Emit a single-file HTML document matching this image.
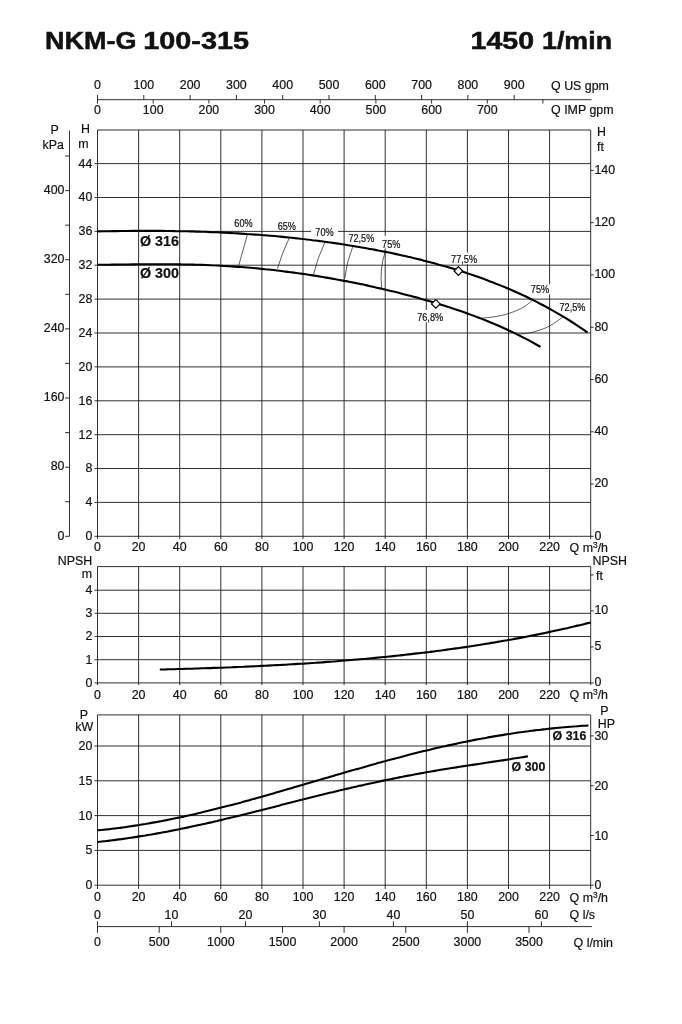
<!DOCTYPE html>
<html><head><meta charset="utf-8"><title>NKM-G 100-315</title>
<style>
html,body{margin:0;padding:0;background:#fff;}
body{width:682px;height:1024px;overflow:hidden;}
svg{display:block;will-change:transform;opacity:0.999;font-family:"Liberation Sans",sans-serif;fill:#111;}
text{stroke:#111;stroke-width:0.2px;}
text.t{stroke-width:0.5px;}
</style></head><body>
<svg width="682" height="1024" viewBox="0 0 682 1024">
<rect width="682" height="1024" fill="#fff"/>
<text x="45.0" y="49.2" textLength="91.5" class="t" font-size="24" font-weight="bold" lengthAdjust="spacingAndGlyphs">NKM-G</text>
<text x="143.2" y="49.2" textLength="105.8" class="t" font-size="24" font-weight="bold" lengthAdjust="spacingAndGlyphs">100-315</text>
<text x="470.6" y="49.2" textLength="63.5" class="t" font-size="24" font-weight="bold" lengthAdjust="spacingAndGlyphs">1450</text>
<text x="542.0" y="49.2" textLength="70" class="t" font-size="24" font-weight="bold" lengthAdjust="spacingAndGlyphs">1/min</text>
<path d="M97.5,99.7L591.5,99.7" stroke="#1a1a1a" stroke-width="0.9" fill="none"/>
<path d="M97.5,95.0L97.5,103.5" stroke="#1a1a1a" stroke-width="0.9" fill="none"/>
<path d="M143.8,95.0L143.8,99.7" stroke="#1a1a1a" stroke-width="0.9" fill="none"/>
<path d="M190.1,95.0L190.1,99.7" stroke="#1a1a1a" stroke-width="0.9" fill="none"/>
<path d="M236.4,95.0L236.4,99.7" stroke="#1a1a1a" stroke-width="0.9" fill="none"/>
<path d="M282.7,95.0L282.7,99.7" stroke="#1a1a1a" stroke-width="0.9" fill="none"/>
<path d="M329.0,95.0L329.0,99.7" stroke="#1a1a1a" stroke-width="0.9" fill="none"/>
<path d="M375.3,95.0L375.3,99.7" stroke="#1a1a1a" stroke-width="0.9" fill="none"/>
<path d="M421.6,95.0L421.6,99.7" stroke="#1a1a1a" stroke-width="0.9" fill="none"/>
<path d="M467.9,95.0L467.9,99.7" stroke="#1a1a1a" stroke-width="0.9" fill="none"/>
<path d="M514.2,95.0L514.2,99.7" stroke="#1a1a1a" stroke-width="0.9" fill="none"/>
<text x="97.5" y="89.4" font-size="12.4" text-anchor="middle">0</text>
<text x="143.8" y="89.4" font-size="12.4" text-anchor="middle">100</text>
<text x="190.1" y="89.4" font-size="12.4" text-anchor="middle">200</text>
<text x="236.4" y="89.4" font-size="12.4" text-anchor="middle">300</text>
<text x="282.7" y="89.4" font-size="12.4" text-anchor="middle">400</text>
<text x="329.0" y="89.4" font-size="12.4" text-anchor="middle">500</text>
<text x="375.3" y="89.4" font-size="12.4" text-anchor="middle">600</text>
<text x="421.6" y="89.4" font-size="12.4" text-anchor="middle">700</text>
<text x="467.9" y="89.4" font-size="12.4" text-anchor="middle">800</text>
<text x="514.2" y="89.4" font-size="12.4" text-anchor="middle">900</text>
<path d="M153.2,99.7L153.2,103.5" stroke="#1a1a1a" stroke-width="0.9" fill="none"/>
<path d="M208.9,99.7L208.9,103.5" stroke="#1a1a1a" stroke-width="0.9" fill="none"/>
<path d="M264.5,99.7L264.5,103.5" stroke="#1a1a1a" stroke-width="0.9" fill="none"/>
<path d="M320.2,99.7L320.2,103.5" stroke="#1a1a1a" stroke-width="0.9" fill="none"/>
<path d="M375.9,99.7L375.9,103.5" stroke="#1a1a1a" stroke-width="0.9" fill="none"/>
<path d="M431.6,99.7L431.6,103.5" stroke="#1a1a1a" stroke-width="0.9" fill="none"/>
<path d="M487.3,99.7L487.3,103.5" stroke="#1a1a1a" stroke-width="0.9" fill="none"/>
<path d="M542.9,99.7L542.9,103.5" stroke="#1a1a1a" stroke-width="0.9" fill="none"/>
<text x="97.5" y="114.2" font-size="12.4" text-anchor="middle">0</text>
<text x="153.2" y="114.2" font-size="12.4" text-anchor="middle">100</text>
<text x="208.9" y="114.2" font-size="12.4" text-anchor="middle">200</text>
<text x="264.5" y="114.2" font-size="12.4" text-anchor="middle">300</text>
<text x="320.2" y="114.2" font-size="12.4" text-anchor="middle">400</text>
<text x="375.9" y="114.2" font-size="12.4" text-anchor="middle">500</text>
<text x="431.6" y="114.2" font-size="12.4" text-anchor="middle">600</text>
<text x="487.3" y="114.2" font-size="12.4" text-anchor="middle">700</text>
<text x="551.1" y="89.5" font-size="12.4" text-anchor="start">Q US gpm</text>
<text x="551.1" y="114.2" font-size="12.4" text-anchor="start">Q IMP gpm</text>
<path d="M97.5,130.0L97.5,539.1" stroke="#1a1a1a" stroke-width="0.9" fill="none"/>
<path d="M138.6,130.0L138.6,539.1" stroke="#1a1a1a" stroke-width="0.9" fill="none"/>
<path d="M179.7,130.0L179.7,539.1" stroke="#1a1a1a" stroke-width="0.9" fill="none"/>
<path d="M220.8,130.0L220.8,539.1" stroke="#1a1a1a" stroke-width="0.9" fill="none"/>
<path d="M261.9,130.0L261.9,539.1" stroke="#1a1a1a" stroke-width="0.9" fill="none"/>
<path d="M303.0,130.0L303.0,539.1" stroke="#1a1a1a" stroke-width="0.9" fill="none"/>
<path d="M344.1,130.0L344.1,539.1" stroke="#1a1a1a" stroke-width="0.9" fill="none"/>
<path d="M385.2,130.0L385.2,539.1" stroke="#1a1a1a" stroke-width="0.9" fill="none"/>
<path d="M426.3,130.0L426.3,539.1" stroke="#1a1a1a" stroke-width="0.9" fill="none"/>
<path d="M467.4,130.0L467.4,539.1" stroke="#1a1a1a" stroke-width="0.9" fill="none"/>
<path d="M508.5,130.0L508.5,539.1" stroke="#1a1a1a" stroke-width="0.9" fill="none"/>
<path d="M549.6,130.0L549.6,539.1" stroke="#1a1a1a" stroke-width="0.9" fill="none"/>
<path d="M590.7,130.0L590.7,539.1" stroke="#1a1a1a" stroke-width="0.9" fill="none"/>
<path d="M94.5,536.3L590.7,536.3" stroke="#1a1a1a" stroke-width="0.9" fill="none"/>
<text x="92.3" y="540.2" font-size="12.4" text-anchor="end">0</text>
<path d="M94.5,502.4L590.7,502.4" stroke="#1a1a1a" stroke-width="0.9" fill="none"/>
<text x="92.3" y="506.3" font-size="12.4" text-anchor="end">4</text>
<path d="M94.5,468.5L590.7,468.5" stroke="#1a1a1a" stroke-width="0.9" fill="none"/>
<text x="92.3" y="472.4" font-size="12.4" text-anchor="end">8</text>
<path d="M94.5,434.7L590.7,434.7" stroke="#1a1a1a" stroke-width="0.9" fill="none"/>
<text x="92.3" y="438.6" font-size="12.4" text-anchor="end">12</text>
<path d="M94.5,400.8L590.7,400.8" stroke="#1a1a1a" stroke-width="0.9" fill="none"/>
<text x="92.3" y="404.7" font-size="12.4" text-anchor="end">16</text>
<path d="M94.5,366.9L590.7,366.9" stroke="#1a1a1a" stroke-width="0.9" fill="none"/>
<text x="92.3" y="370.8" font-size="12.4" text-anchor="end">20</text>
<path d="M94.5,333.0L590.7,333.0" stroke="#1a1a1a" stroke-width="0.9" fill="none"/>
<text x="92.3" y="336.9" font-size="12.4" text-anchor="end">24</text>
<path d="M94.5,299.1L590.7,299.1" stroke="#1a1a1a" stroke-width="0.9" fill="none"/>
<text x="92.3" y="303.0" font-size="12.4" text-anchor="end">28</text>
<path d="M94.5,265.2L590.7,265.2" stroke="#1a1a1a" stroke-width="0.9" fill="none"/>
<text x="92.3" y="269.1" font-size="12.4" text-anchor="end">32</text>
<path d="M94.5,231.4L311.0,231.4" stroke="#1a1a1a" stroke-width="0.9" fill="none"/>
<path d="M337.7,231.4L590.7,231.4" stroke="#1a1a1a" stroke-width="0.9" fill="none"/>
<text x="92.3" y="235.3" font-size="12.4" text-anchor="end">36</text>
<path d="M94.5,197.5L590.7,197.5" stroke="#1a1a1a" stroke-width="0.9" fill="none"/>
<text x="92.3" y="201.4" font-size="12.4" text-anchor="end">40</text>
<path d="M94.5,163.6L590.7,163.6" stroke="#1a1a1a" stroke-width="0.9" fill="none"/>
<text x="92.3" y="167.5" font-size="12.4" text-anchor="end">44</text>
<path d="M97.5,130.0L590.7,130.0" stroke="#1a1a1a" stroke-width="0.9" fill="none"/>
<text x="85.5" y="133.4" font-size="12.4" text-anchor="middle">H</text>
<text x="83.4" y="147.8" font-size="12.4" text-anchor="middle">m</text>
<path d="M69.5,130.5L69.5,536.3" stroke="#1a1a1a" stroke-width="0.9" fill="none"/>
<path d="M65.1,536.3L69.5,536.3" stroke="#1a1a1a" stroke-width="0.9" fill="none"/>
<text x="64.5" y="539.5" font-size="12.4" text-anchor="end">0</text>
<path d="M65.1,501.7L69.5,501.7" stroke="#1a1a1a" stroke-width="0.9" fill="none"/>
<path d="M65.1,467.2L69.5,467.2" stroke="#1a1a1a" stroke-width="0.9" fill="none"/>
<text x="64.5" y="470.4" font-size="12.4" text-anchor="end">80</text>
<path d="M65.1,432.6L69.5,432.6" stroke="#1a1a1a" stroke-width="0.9" fill="none"/>
<path d="M65.1,398.0L69.5,398.0" stroke="#1a1a1a" stroke-width="0.9" fill="none"/>
<text x="64.5" y="401.2" font-size="12.4" text-anchor="end">160</text>
<path d="M65.1,363.4L69.5,363.4" stroke="#1a1a1a" stroke-width="0.9" fill="none"/>
<path d="M65.1,328.9L69.5,328.9" stroke="#1a1a1a" stroke-width="0.9" fill="none"/>
<text x="64.5" y="332.1" font-size="12.4" text-anchor="end">240</text>
<path d="M65.1,294.3L69.5,294.3" stroke="#1a1a1a" stroke-width="0.9" fill="none"/>
<path d="M65.1,259.7L69.5,259.7" stroke="#1a1a1a" stroke-width="0.9" fill="none"/>
<text x="64.5" y="262.9" font-size="12.4" text-anchor="end">320</text>
<path d="M65.1,225.2L69.5,225.2" stroke="#1a1a1a" stroke-width="0.9" fill="none"/>
<path d="M65.1,190.6L69.5,190.6" stroke="#1a1a1a" stroke-width="0.9" fill="none"/>
<text x="64.5" y="193.8" font-size="12.4" text-anchor="end">400</text>
<path d="M65.1,156.0L69.5,156.0" stroke="#1a1a1a" stroke-width="0.9" fill="none"/>
<text x="54.7" y="134.4" font-size="12.4" text-anchor="middle">P</text>
<text x="63.8" y="149.3" font-size="12.4" text-anchor="end">kPa</text>
<path d="M590.7,536.3L593.7,536.3" stroke="#1a1a1a" stroke-width="0.9" fill="none"/>
<text x="594.4" y="539.7" font-size="12.4" text-anchor="start">0</text>
<path d="M590.7,484.0L593.7,484.0" stroke="#1a1a1a" stroke-width="0.9" fill="none"/>
<text x="594.4" y="487.4" font-size="12.4" text-anchor="start">20</text>
<path d="M590.7,431.8L593.7,431.8" stroke="#1a1a1a" stroke-width="0.9" fill="none"/>
<text x="594.4" y="435.2" font-size="12.4" text-anchor="start">40</text>
<path d="M590.7,379.5L593.7,379.5" stroke="#1a1a1a" stroke-width="0.9" fill="none"/>
<text x="594.4" y="382.9" font-size="12.4" text-anchor="start">60</text>
<path d="M590.7,327.2L593.7,327.2" stroke="#1a1a1a" stroke-width="0.9" fill="none"/>
<text x="594.4" y="330.6" font-size="12.4" text-anchor="start">80</text>
<path d="M590.7,274.9L593.7,274.9" stroke="#1a1a1a" stroke-width="0.9" fill="none"/>
<text x="594.4" y="278.3" font-size="12.4" text-anchor="start">100</text>
<path d="M590.7,222.7L593.7,222.7" stroke="#1a1a1a" stroke-width="0.9" fill="none"/>
<text x="594.4" y="226.1" font-size="12.4" text-anchor="start">120</text>
<path d="M590.7,170.4L593.7,170.4" stroke="#1a1a1a" stroke-width="0.9" fill="none"/>
<text x="594.4" y="173.8" font-size="12.4" text-anchor="start">140</text>
<text x="597.0" y="135.5" font-size="12.4" text-anchor="start">H</text>
<text x="597.0" y="150.5" font-size="12.4" text-anchor="start">ft</text>
<text x="97.5" y="551.2" font-size="12.4" text-anchor="middle">0</text>
<text x="138.6" y="551.2" font-size="12.4" text-anchor="middle">20</text>
<text x="179.7" y="551.2" font-size="12.4" text-anchor="middle">40</text>
<text x="220.8" y="551.2" font-size="12.4" text-anchor="middle">60</text>
<text x="261.9" y="551.2" font-size="12.4" text-anchor="middle">80</text>
<text x="303.0" y="551.2" font-size="12.4" text-anchor="middle">100</text>
<text x="344.1" y="551.2" font-size="12.4" text-anchor="middle">120</text>
<text x="385.2" y="551.2" font-size="12.4" text-anchor="middle">140</text>
<text x="426.3" y="551.2" font-size="12.4" text-anchor="middle">160</text>
<text x="467.4" y="551.2" font-size="12.4" text-anchor="middle">180</text>
<text x="508.5" y="551.2" font-size="12.4" text-anchor="middle">200</text>
<text x="549.6" y="551.2" font-size="12.4" text-anchor="middle">220</text>
<text x="569.6" y="552.1" font-size="12.4">Q m<tspan font-size="8.3" dy="-4">3</tspan><tspan dy="4">/h</tspan></text>
<path d="M247.4,234.6 L238.7,265.6" stroke="#1a1a1a" stroke-width="0.7" fill="none"/>
<path d="M289.1,238.4 Q282,253 277.4,268.6" stroke="#1a1a1a" stroke-width="0.7" fill="none"/>
<path d="M324.7,242.7 Q317.5,258 313.5,274.3" stroke="#1a1a1a" stroke-width="0.7" fill="none"/>
<path d="M352.6,247.2 Q346.5,262 344.7,278.8" stroke="#1a1a1a" stroke-width="0.7" fill="none"/>
<path d="M385.4,251.2 Q379.4,268.5 381.7,287.8" stroke="#1a1a1a" stroke-width="0.7" fill="none"/>
<path d="M532.9,299.9 C531.3,301.1 527.4,304.9 523.4,307.2 C519.4,309.5 513.7,311.9 508.9,313.5 C504.1,315.1 499.4,315.9 494.8,316.7 C490.2,317.5 483.6,317.9 481.4,318.2" stroke="#1a1a1a" stroke-width="0.7" fill="none"/>
<path d="M563.4,316.7 C561.0,318.3 553.8,323.8 549.3,326.2 C544.8,328.6 540.4,329.8 536.7,331.0 C533.0,332.2 530.7,332.7 527.2,333.3 C523.7,333.9 517.6,334.2 515.7,334.4" stroke="#1a1a1a" stroke-width="0.7" fill="none"/>
<path d="M97.4,231.4 C98.4,231.4 101.4,231.4 103.4,231.3 C105.4,231.3 107.4,231.2 109.4,231.2 C111.3,231.2 113.3,231.1 115.3,231.1 C117.3,231.1 119.3,231.1 121.3,231.0 C123.3,231.0 125.3,231.0 127.3,231.0 C129.3,230.9 131.3,230.9 133.3,230.9 C135.3,230.9 137.2,230.9 139.2,230.9 C141.2,230.9 143.2,230.9 145.2,230.9 C147.2,230.9 149.2,230.9 151.2,230.9 C153.2,230.9 155.2,230.9 157.2,230.9 C159.2,230.9 161.2,230.9 163.1,230.9 C165.1,230.9 167.1,231.0 169.1,231.0 C171.1,231.0 173.1,231.0 175.1,231.1 C177.1,231.1 179.1,231.1 181.1,231.2 C183.1,231.2 185.1,231.2 187.1,231.3 C189.0,231.3 191.0,231.4 193.0,231.4 C195.0,231.5 197.0,231.6 199.0,231.6 C201.0,231.7 203.0,231.8 205.0,231.8 C207.0,231.9 209.0,232.0 211.0,232.1 C213.0,232.1 214.9,232.2 216.9,232.3 C218.9,232.4 220.9,232.5 222.9,232.6 C224.9,232.7 226.9,232.8 228.9,232.9 C230.9,233.0 232.9,233.1 234.9,233.2 C236.9,233.3 238.9,233.5 240.8,233.6 C242.8,233.7 244.8,233.8 246.8,234.0 C248.8,234.1 250.8,234.2 252.8,234.4 C254.8,234.5 256.8,234.7 258.8,234.8 C260.8,235.0 262.8,235.1 264.8,235.3 C266.7,235.5 268.7,235.6 270.7,235.8 C272.7,236.0 274.7,236.2 276.7,236.3 C278.7,236.5 280.7,236.7 282.7,236.9 C284.7,237.1 286.7,237.3 288.7,237.5 C290.7,237.7 292.6,237.9 294.6,238.1 C296.6,238.3 298.6,238.5 300.6,238.8 C302.6,239.0 304.6,239.2 306.6,239.5 C308.6,239.7 310.6,239.9 312.6,240.2 C314.6,240.4 316.6,240.7 318.5,240.9 C320.5,241.2 322.5,241.4 324.5,241.7 C326.5,242.0 328.5,242.3 330.5,242.5 C332.5,242.8 334.5,243.1 336.5,243.4 C338.5,243.7 340.5,244.0 342.5,244.3 C344.4,244.6 346.4,244.9 348.4,245.2 C350.4,245.5 352.4,245.9 354.4,246.2 C356.4,246.5 358.4,246.9 360.4,247.2 C362.4,247.5 364.4,247.9 366.4,248.2 C368.3,248.6 370.3,249.0 372.3,249.3 C374.3,249.7 376.3,250.1 378.3,250.5 C380.3,250.8 382.3,251.2 384.3,251.6 C386.3,252.0 388.3,252.4 390.3,252.8 C392.3,253.3 394.2,253.7 396.2,254.1 C398.2,254.5 400.2,255.0 402.2,255.4 C404.2,255.9 406.2,256.3 408.2,256.8 C410.2,257.2 412.2,257.7 414.2,258.2 C416.2,258.7 418.2,259.2 420.1,259.6 C422.1,260.1 424.1,260.7 426.1,261.2 C428.1,261.7 430.1,262.2 432.1,262.7 C434.1,263.3 436.1,263.8 438.1,264.4 C440.1,264.9 442.1,265.5 444.1,266.1 C446.0,266.6 448.0,267.2 450.0,267.8 C452.0,268.4 454.0,269.0 456.0,269.6 C458.0,270.2 460.0,270.9 462.0,271.5 C464.0,272.1 466.0,272.8 468.0,273.5 C470.0,274.1 471.9,274.8 473.9,275.5 C475.9,276.2 477.9,276.9 479.9,277.6 C481.9,278.3 483.9,279.0 485.9,279.8 C487.9,280.5 489.9,281.3 491.9,282.0 C493.9,282.8 495.9,283.6 497.8,284.4 C499.8,285.2 501.8,286.0 503.8,286.8 C505.8,287.6 507.8,288.5 509.8,289.3 C511.8,290.2 513.8,291.1 515.8,292.0 C517.8,292.8 519.8,293.8 521.8,294.7 C523.7,295.6 525.7,296.5 527.7,297.5 C529.7,298.5 531.7,299.4 533.7,300.4 C535.7,301.4 537.7,302.4 539.7,303.5 C541.7,304.5 543.7,305.6 545.7,306.6 C547.7,307.7 549.6,308.8 551.6,309.9 C553.6,311.0 555.6,312.2 557.6,313.3 C559.6,314.5 561.6,315.7 563.6,316.9 C565.6,318.1 567.6,319.3 569.6,320.5 C571.6,321.8 573.6,323.1 575.5,324.4 C577.5,325.7 579.5,327.0 581.5,328.3 C583.5,329.7 586.5,331.8 587.5,332.4" stroke="#000" stroke-width="2.1" fill="none" stroke-linecap="butt"/>
<path d="M97.4,264.8 C98.4,264.8 101.4,264.7 103.4,264.7 C105.4,264.7 107.4,264.7 109.4,264.7 C111.4,264.7 113.4,264.6 115.4,264.6 C117.4,264.6 119.4,264.6 121.4,264.5 C123.3,264.5 125.3,264.5 127.3,264.5 C129.3,264.4 131.3,264.4 133.3,264.4 C135.3,264.4 137.3,264.3 139.3,264.3 C141.3,264.3 143.3,264.3 145.3,264.3 C147.3,264.3 149.3,264.2 151.3,264.2 C153.3,264.2 155.3,264.2 157.3,264.2 C159.3,264.2 161.3,264.2 163.3,264.2 C165.3,264.2 167.3,264.2 169.3,264.2 C171.2,264.3 173.2,264.3 175.2,264.3 C177.2,264.3 179.2,264.3 181.2,264.4 C183.2,264.4 185.2,264.4 187.2,264.5 C189.2,264.5 191.2,264.6 193.2,264.6 C195.2,264.7 197.2,264.7 199.2,264.8 C201.2,264.9 203.2,264.9 205.2,265.0 C207.2,265.1 209.2,265.2 211.2,265.3 C213.2,265.3 215.2,265.4 217.2,265.5 C219.2,265.6 221.1,265.7 223.1,265.9 C225.1,266.0 227.1,266.1 229.1,266.2 C231.1,266.3 233.1,266.5 235.1,266.6 C237.1,266.8 239.1,266.9 241.1,267.0 C243.1,267.2 245.1,267.4 247.1,267.5 C249.1,267.7 251.1,267.9 253.1,268.0 C255.1,268.2 257.1,268.4 259.1,268.6 C261.1,268.8 263.1,269.0 265.1,269.2 C267.1,269.4 269.1,269.6 271.0,269.8 C273.0,270.1 275.0,270.3 277.0,270.5 C279.0,270.8 281.0,271.0 283.0,271.2 C285.0,271.5 287.0,271.7 289.0,272.0 C291.0,272.3 293.0,272.5 295.0,272.8 C297.0,273.1 299.0,273.3 301.0,273.6 C303.0,273.9 305.0,274.2 307.0,274.5 C309.0,274.8 311.0,275.1 313.0,275.4 C315.0,275.7 317.0,276.1 319.0,276.4 C320.9,276.7 322.9,277.0 324.9,277.4 C326.9,277.7 328.9,278.1 330.9,278.4 C332.9,278.8 334.9,279.1 336.9,279.5 C338.9,279.8 340.9,280.2 342.9,280.6 C344.9,281.0 346.9,281.3 348.9,281.7 C350.9,282.1 352.9,282.5 354.9,282.9 C356.9,283.3 358.9,283.7 360.9,284.1 C362.9,284.6 364.9,285.0 366.9,285.4 C368.8,285.8 370.8,286.3 372.8,286.7 C374.8,287.2 376.8,287.6 378.8,288.1 C380.8,288.5 382.8,289.0 384.8,289.4 C386.8,289.9 388.8,290.4 390.8,290.9 C392.8,291.4 394.8,291.8 396.8,292.3 C398.8,292.8 400.8,293.3 402.8,293.9 C404.8,294.4 406.8,294.9 408.8,295.4 C410.8,295.9 412.8,296.5 414.8,297.0 C416.8,297.6 418.7,298.1 420.7,298.7 C422.7,299.2 424.7,299.8 426.7,300.4 C428.7,301.0 430.7,301.5 432.7,302.1 C434.7,302.7 436.7,303.3 438.7,303.9 C440.7,304.6 442.7,305.2 444.7,305.8 C446.7,306.4 448.7,307.1 450.7,307.7 C452.7,308.4 454.7,309.1 456.7,309.7 C458.7,310.4 460.7,311.1 462.7,311.8 C464.7,312.5 466.7,313.2 468.6,313.9 C470.6,314.7 472.6,315.4 474.6,316.1 C476.6,316.9 478.6,317.6 480.6,318.4 C482.6,319.2 484.6,320.0 486.6,320.8 C488.6,321.6 490.6,322.4 492.6,323.3 C494.6,324.1 496.6,324.9 498.6,325.8 C500.6,326.7 502.6,327.6 504.6,328.5 C506.6,329.4 508.6,330.3 510.6,331.2 C512.6,332.2 514.6,333.1 516.5,334.1 C518.5,335.1 520.5,336.1 522.5,337.1 C524.5,338.1 526.5,339.1 528.5,340.2 C530.5,341.3 532.5,342.4 534.5,343.5 C536.5,344.6 539.5,346.3 540.5,346.9" stroke="#000" stroke-width="2.1" fill="none" stroke-linecap="butt"/>
<path d="M454.1,271.0L458.4,266.7L462.7,271.0L458.4,275.3Z" fill="#fff" stroke="#000" stroke-width="1.2"/>
<path d="M431.5,303.9L435.8,299.6L440.1,303.9L435.8,308.2Z" fill="#fff" stroke="#000" stroke-width="1.2"/>
<text x="140.0" y="246.2" font-size="14.3" text-anchor="start" font-weight="bold">Ø 316</text>
<text x="140.0" y="277.9" font-size="14.3" text-anchor="start" font-weight="bold">Ø 300</text>
<rect x="311" y="229.5" width="26.7" height="3.5" fill="#fff"/>
<rect x="383.5" y="235.8" width="3.5" height="12.6" fill="#fff"/>
<rect x="424.5" y="310" width="3.5" height="12.3" fill="#fff"/>
<rect x="465.7" y="252.6" width="3.5" height="11.5" fill="#fff"/>
<rect x="547.8" y="284.4" width="3.5" height="10" fill="#fff"/>
<text transform="translate(234.3,226.7) scale(0.915,1)" font-size="10">60%</text>
<text transform="translate(277.7,229.7) scale(0.915,1)" font-size="10">65%</text>
<text transform="translate(315.3,235.9) scale(0.915,1)" font-size="10">70%</text>
<text transform="translate(348.4,241.6) scale(0.915,1)" font-size="10">72,5%</text>
<text transform="translate(382.1,247.9) scale(0.915,1)" font-size="10">75%</text>
<text transform="translate(451.1,262.5) scale(0.915,1)" font-size="10">77,5%</text>
<text transform="translate(417.2,320.8) scale(0.915,1)" font-size="10">76,8%</text>
<text transform="translate(530.8,293.1) scale(0.915,1)" font-size="10">75%</text>
<text transform="translate(559.5,310.5) scale(0.915,1)" font-size="10">72,5%</text>
<path d="M97.5,566.6L97.5,685.1" stroke="#1a1a1a" stroke-width="0.9" fill="none"/>
<path d="M138.6,566.6L138.6,685.1" stroke="#1a1a1a" stroke-width="0.9" fill="none"/>
<path d="M179.7,566.6L179.7,685.1" stroke="#1a1a1a" stroke-width="0.9" fill="none"/>
<path d="M220.8,566.6L220.8,685.1" stroke="#1a1a1a" stroke-width="0.9" fill="none"/>
<path d="M261.9,566.6L261.9,685.1" stroke="#1a1a1a" stroke-width="0.9" fill="none"/>
<path d="M303.0,566.6L303.0,685.1" stroke="#1a1a1a" stroke-width="0.9" fill="none"/>
<path d="M344.1,566.6L344.1,685.1" stroke="#1a1a1a" stroke-width="0.9" fill="none"/>
<path d="M385.2,566.6L385.2,685.1" stroke="#1a1a1a" stroke-width="0.9" fill="none"/>
<path d="M426.3,566.6L426.3,685.1" stroke="#1a1a1a" stroke-width="0.9" fill="none"/>
<path d="M467.4,566.6L467.4,685.1" stroke="#1a1a1a" stroke-width="0.9" fill="none"/>
<path d="M508.5,566.6L508.5,685.1" stroke="#1a1a1a" stroke-width="0.9" fill="none"/>
<path d="M549.6,566.6L549.6,685.1" stroke="#1a1a1a" stroke-width="0.9" fill="none"/>
<path d="M590.7,566.6L590.7,685.1" stroke="#1a1a1a" stroke-width="0.9" fill="none"/>
<path d="M97.5,566.6L590.7,566.6" stroke="#1a1a1a" stroke-width="0.9" fill="none"/>
<path d="M94.5,682.9L590.7,682.9" stroke="#1a1a1a" stroke-width="0.9" fill="none"/>
<text x="92.3" y="686.8" font-size="12.4" text-anchor="end">0</text>
<path d="M94.5,659.7L590.7,659.7" stroke="#1a1a1a" stroke-width="0.9" fill="none"/>
<text x="92.3" y="663.6" font-size="12.4" text-anchor="end">1</text>
<path d="M94.5,636.5L590.7,636.5" stroke="#1a1a1a" stroke-width="0.9" fill="none"/>
<text x="92.3" y="640.4" font-size="12.4" text-anchor="end">2</text>
<path d="M94.5,613.3L590.7,613.3" stroke="#1a1a1a" stroke-width="0.9" fill="none"/>
<text x="92.3" y="617.2" font-size="12.4" text-anchor="end">3</text>
<path d="M94.5,590.2L590.7,590.2" stroke="#1a1a1a" stroke-width="0.9" fill="none"/>
<text x="92.3" y="594.1" font-size="12.4" text-anchor="end">4</text>
<text x="92.2" y="564.6" font-size="12.4" text-anchor="end">NPSH</text>
<text x="92.2" y="577.8" font-size="12.4" text-anchor="end">m</text>
<text x="592.5" y="565.3" font-size="12.4" text-anchor="start">NPSH</text>
<text x="596.1" y="579.7" font-size="12.4" text-anchor="start">ft</text>
<path d="M590.7,682.9L593.7,682.9" stroke="#1a1a1a" stroke-width="0.9" fill="none"/>
<text x="594.4" y="686.4" font-size="12.4" text-anchor="start">0</text>
<path d="M590.7,646.9L593.7,646.9" stroke="#1a1a1a" stroke-width="0.9" fill="none"/>
<text x="594.4" y="650.4" font-size="12.4" text-anchor="start">5</text>
<path d="M590.7,610.9L593.7,610.9" stroke="#1a1a1a" stroke-width="0.9" fill="none"/>
<text x="594.4" y="614.4" font-size="12.4" text-anchor="start">10</text>
<path d="M590.7,574.9L593.7,574.9" stroke="#1a1a1a" stroke-width="0.9" fill="none"/>
<text x="97.5" y="698.5" font-size="12.4" text-anchor="middle">0</text>
<text x="138.6" y="698.5" font-size="12.4" text-anchor="middle">20</text>
<text x="179.7" y="698.5" font-size="12.4" text-anchor="middle">40</text>
<text x="220.8" y="698.5" font-size="12.4" text-anchor="middle">60</text>
<text x="261.9" y="698.5" font-size="12.4" text-anchor="middle">80</text>
<text x="303.0" y="698.5" font-size="12.4" text-anchor="middle">100</text>
<text x="344.1" y="698.5" font-size="12.4" text-anchor="middle">120</text>
<text x="385.2" y="698.5" font-size="12.4" text-anchor="middle">140</text>
<text x="426.3" y="698.5" font-size="12.4" text-anchor="middle">160</text>
<text x="467.4" y="698.5" font-size="12.4" text-anchor="middle">180</text>
<text x="508.5" y="698.5" font-size="12.4" text-anchor="middle">200</text>
<text x="549.6" y="698.5" font-size="12.4" text-anchor="middle">220</text>
<text x="569.6" y="699.4" font-size="12.4">Q m<tspan font-size="8.3" dy="-4">3</tspan><tspan dy="4">/h</tspan></text>
<path d="M159.8,669.5 C160.8,669.5 163.8,669.4 165.8,669.4 C167.8,669.3 169.8,669.3 171.8,669.2 C173.8,669.2 175.8,669.1 177.8,669.0 C179.8,669.0 181.7,668.9 183.7,668.9 C185.7,668.8 187.7,668.8 189.7,668.7 C191.7,668.7 193.7,668.6 195.7,668.5 C197.7,668.5 199.7,668.4 201.7,668.3 C203.7,668.3 205.7,668.2 207.7,668.1 C209.7,668.1 211.7,668.0 213.7,667.9 C215.7,667.9 217.7,667.8 219.7,667.7 C221.7,667.7 223.7,667.6 225.6,667.5 C227.6,667.4 229.6,667.3 231.6,667.3 C233.6,667.2 235.6,667.1 237.6,667.0 C239.6,666.9 241.6,666.8 243.6,666.8 C245.6,666.7 247.6,666.6 249.6,666.5 C251.6,666.4 253.6,666.3 255.6,666.2 C257.6,666.1 259.6,666.0 261.6,665.9 C263.6,665.8 265.6,665.7 267.6,665.6 C269.5,665.5 271.5,665.4 273.5,665.3 C275.5,665.2 277.5,665.1 279.5,665.0 C281.5,664.9 283.5,664.8 285.5,664.7 C287.5,664.5 289.5,664.4 291.5,664.3 C293.5,664.2 295.5,664.1 297.5,663.9 C299.5,663.8 301.5,663.7 303.5,663.6 C305.5,663.4 307.5,663.3 309.5,663.2 C311.4,663.1 313.4,662.9 315.4,662.8 C317.4,662.6 319.4,662.5 321.4,662.4 C323.4,662.2 325.4,662.1 327.4,661.9 C329.4,661.8 331.4,661.6 333.4,661.5 C335.4,661.3 337.4,661.2 339.4,661.0 C341.4,660.9 343.4,660.7 345.4,660.5 C347.4,660.4 349.4,660.2 351.4,660.0 C353.4,659.9 355.3,659.7 357.3,659.5 C359.3,659.4 361.3,659.2 363.3,659.0 C365.3,658.8 367.3,658.7 369.3,658.5 C371.3,658.3 373.3,658.1 375.3,657.9 C377.3,657.7 379.3,657.5 381.3,657.3 C383.3,657.1 385.3,656.9 387.3,656.7 C389.3,656.5 391.3,656.3 393.3,656.1 C395.3,655.9 397.2,655.7 399.2,655.5 C401.2,655.3 403.2,655.0 405.2,654.8 C407.2,654.6 409.2,654.4 411.2,654.1 C413.2,653.9 415.2,653.7 417.2,653.4 C419.2,653.2 421.2,653.0 423.2,652.7 C425.2,652.5 427.2,652.2 429.2,652.0 C431.2,651.7 433.2,651.5 435.2,651.2 C437.2,651.0 439.2,650.7 441.1,650.5 C443.1,650.2 445.1,649.9 447.1,649.6 C449.1,649.4 451.1,649.1 453.1,648.8 C455.1,648.5 457.1,648.3 459.1,648.0 C461.1,647.7 463.1,647.4 465.1,647.1 C467.1,646.8 469.1,646.5 471.1,646.2 C473.1,645.9 475.1,645.6 477.1,645.3 C479.1,645.0 481.1,644.7 483.1,644.3 C485.0,644.0 487.0,643.7 489.0,643.4 C491.0,643.0 493.0,642.7 495.0,642.4 C497.0,642.0 499.0,641.7 501.0,641.3 C503.0,641.0 505.0,640.6 507.0,640.3 C509.0,639.9 511.0,639.6 513.0,639.2 C515.0,638.8 517.0,638.5 519.0,638.1 C521.0,637.7 523.0,637.3 525.0,637.0 C526.9,636.6 528.9,636.2 530.9,635.8 C532.9,635.4 534.9,635.0 536.9,634.6 C538.9,634.2 540.9,633.8 542.9,633.4 C544.9,633.0 546.9,632.5 548.9,632.1 C550.9,631.7 552.9,631.3 554.9,630.8 C556.9,630.4 558.9,630.0 560.9,629.5 C562.9,629.1 564.9,628.6 566.9,628.2 C568.9,627.7 570.8,627.2 572.8,626.8 C574.8,626.3 576.8,625.8 578.8,625.4 C580.8,624.9 582.8,624.4 584.8,623.9 C586.8,623.4 589.8,622.7 590.8,622.4" stroke="#000" stroke-width="2.1" fill="none" stroke-linecap="butt"/>
<path d="M97.5,714.9L97.5,889.0" stroke="#1a1a1a" stroke-width="0.9" fill="none"/>
<path d="M138.6,714.9L138.6,889.0" stroke="#1a1a1a" stroke-width="0.9" fill="none"/>
<path d="M179.7,714.9L179.7,889.0" stroke="#1a1a1a" stroke-width="0.9" fill="none"/>
<path d="M220.8,714.9L220.8,889.0" stroke="#1a1a1a" stroke-width="0.9" fill="none"/>
<path d="M261.9,714.9L261.9,889.0" stroke="#1a1a1a" stroke-width="0.9" fill="none"/>
<path d="M303.0,714.9L303.0,889.0" stroke="#1a1a1a" stroke-width="0.9" fill="none"/>
<path d="M344.1,714.9L344.1,889.0" stroke="#1a1a1a" stroke-width="0.9" fill="none"/>
<path d="M385.2,714.9L385.2,889.0" stroke="#1a1a1a" stroke-width="0.9" fill="none"/>
<path d="M426.3,714.9L426.3,889.0" stroke="#1a1a1a" stroke-width="0.9" fill="none"/>
<path d="M467.4,714.9L467.4,889.0" stroke="#1a1a1a" stroke-width="0.9" fill="none"/>
<path d="M508.5,714.9L508.5,889.0" stroke="#1a1a1a" stroke-width="0.9" fill="none"/>
<path d="M549.6,714.9L549.6,889.0" stroke="#1a1a1a" stroke-width="0.9" fill="none"/>
<path d="M590.7,714.9L590.7,889.0" stroke="#1a1a1a" stroke-width="0.9" fill="none"/>
<path d="M97.5,714.9L590.7,714.9" stroke="#1a1a1a" stroke-width="0.9" fill="none"/>
<path d="M94.5,885.2L590.7,885.2" stroke="#1a1a1a" stroke-width="0.9" fill="none"/>
<text x="92.3" y="889.1" font-size="12.4" text-anchor="end">0</text>
<path d="M94.5,850.4L590.7,850.4" stroke="#1a1a1a" stroke-width="0.9" fill="none"/>
<text x="92.3" y="854.3" font-size="12.4" text-anchor="end">5</text>
<path d="M94.5,815.6L590.7,815.6" stroke="#1a1a1a" stroke-width="0.9" fill="none"/>
<text x="92.3" y="819.5" font-size="12.4" text-anchor="end">10</text>
<path d="M94.5,780.8L590.7,780.8" stroke="#1a1a1a" stroke-width="0.9" fill="none"/>
<text x="92.3" y="784.7" font-size="12.4" text-anchor="end">15</text>
<path d="M94.5,746.0L590.7,746.0" stroke="#1a1a1a" stroke-width="0.9" fill="none"/>
<text x="92.3" y="749.9" font-size="12.4" text-anchor="end">20</text>
<text x="84.0" y="719.3" font-size="12.4" text-anchor="middle">P</text>
<text x="93.2" y="730.8" font-size="12.4" text-anchor="end">kW</text>
<text x="600.3" y="715.1" font-size="12.4" text-anchor="start">P</text>
<text x="597.7" y="728.3" font-size="12.4" text-anchor="start">HP</text>
<path d="M590.7,885.2L593.7,885.2" stroke="#1a1a1a" stroke-width="0.9" fill="none"/>
<text x="594.4" y="889.4" font-size="12.4" text-anchor="start">0</text>
<path d="M590.7,835.5L593.7,835.5" stroke="#1a1a1a" stroke-width="0.9" fill="none"/>
<text x="594.4" y="839.6" font-size="12.4" text-anchor="start">10</text>
<path d="M590.7,785.7L593.7,785.7" stroke="#1a1a1a" stroke-width="0.9" fill="none"/>
<text x="594.4" y="789.8" font-size="12.4" text-anchor="start">20</text>
<path d="M590.7,735.9L593.7,735.9" stroke="#1a1a1a" stroke-width="0.9" fill="none"/>
<text x="594.4" y="740.0" font-size="12.4" text-anchor="start">30</text>
<text x="97.5" y="900.8" font-size="12.4" text-anchor="middle">0</text>
<text x="138.6" y="900.8" font-size="12.4" text-anchor="middle">20</text>
<text x="179.7" y="900.8" font-size="12.4" text-anchor="middle">40</text>
<text x="220.8" y="900.8" font-size="12.4" text-anchor="middle">60</text>
<text x="261.9" y="900.8" font-size="12.4" text-anchor="middle">80</text>
<text x="303.0" y="900.8" font-size="12.4" text-anchor="middle">100</text>
<text x="344.1" y="900.8" font-size="12.4" text-anchor="middle">120</text>
<text x="385.2" y="900.8" font-size="12.4" text-anchor="middle">140</text>
<text x="426.3" y="900.8" font-size="12.4" text-anchor="middle">160</text>
<text x="467.4" y="900.8" font-size="12.4" text-anchor="middle">180</text>
<text x="508.5" y="900.8" font-size="12.4" text-anchor="middle">200</text>
<text x="549.6" y="900.8" font-size="12.4" text-anchor="middle">220</text>
<text x="569.6" y="901.7" font-size="12.4">Q m<tspan font-size="8.3" dy="-4">3</tspan><tspan dy="4">/h</tspan></text>
<path d="M97.5,830.3 C98.5,830.2 101.5,829.9 103.5,829.7 C105.5,829.5 107.5,829.3 109.5,829.1 C111.5,828.8 113.5,828.6 115.5,828.4 C117.5,828.1 119.5,827.9 121.5,827.6 C123.4,827.3 125.4,827.1 127.4,826.8 C129.4,826.5 131.4,826.2 133.4,825.9 C135.4,825.6 137.4,825.3 139.4,825.0 C141.4,824.6 143.4,824.3 145.4,824.0 C147.4,823.6 149.4,823.3 151.4,822.9 C153.4,822.6 155.4,822.2 157.4,821.9 C159.4,821.5 161.4,821.1 163.4,820.7 C165.4,820.3 167.4,819.9 169.4,819.5 C171.3,819.1 173.3,818.7 175.3,818.3 C177.3,817.9 179.3,817.5 181.3,817.1 C183.3,816.6 185.3,816.2 187.3,815.7 C189.3,815.3 191.3,814.9 193.3,814.4 C195.3,813.9 197.3,813.5 199.3,813.0 C201.3,812.5 203.3,812.1 205.3,811.6 C207.3,811.1 209.3,810.6 211.3,810.1 C213.3,809.6 215.3,809.1 217.3,808.6 C219.3,808.1 221.2,807.6 223.2,807.1 C225.2,806.6 227.2,806.1 229.2,805.6 C231.2,805.0 233.2,804.5 235.2,804.0 C237.2,803.4 239.2,802.9 241.2,802.4 C243.2,801.8 245.2,801.3 247.2,800.7 C249.2,800.2 251.2,799.6 253.2,799.1 C255.2,798.5 257.2,798.0 259.2,797.4 C261.2,796.9 263.2,796.3 265.2,795.7 C267.2,795.2 269.2,794.6 271.1,794.0 C273.1,793.4 275.1,792.9 277.1,792.3 C279.1,791.7 281.1,791.1 283.1,790.6 C285.1,790.0 287.1,789.4 289.1,788.8 C291.1,788.2 293.1,787.7 295.1,787.1 C297.1,786.5 299.1,785.9 301.1,785.3 C303.1,784.7 305.1,784.2 307.1,783.6 C309.1,783.0 311.1,782.4 313.1,781.8 C315.1,781.2 317.1,780.6 319.0,780.0 C321.0,779.5 323.0,778.9 325.0,778.3 C327.0,777.7 329.0,777.1 331.0,776.5 C333.0,775.9 335.0,775.4 337.0,774.8 C339.0,774.2 341.0,773.6 343.0,773.0 C345.0,772.5 347.0,771.9 349.0,771.3 C351.0,770.7 353.0,770.1 355.0,769.6 C357.0,769.0 359.0,768.4 361.0,767.9 C363.0,767.3 365.0,766.7 367.0,766.2 C368.9,765.6 370.9,765.0 372.9,764.5 C374.9,763.9 376.9,763.4 378.9,762.8 C380.9,762.3 382.9,761.7 384.9,761.2 C386.9,760.6 388.9,760.1 390.9,759.6 C392.9,759.0 394.9,758.5 396.9,758.0 C398.9,757.4 400.9,756.9 402.9,756.4 C404.9,755.9 406.9,755.4 408.9,754.8 C410.9,754.3 412.9,753.8 414.9,753.3 C416.8,752.8 418.8,752.3 420.8,751.8 C422.8,751.3 424.8,750.9 426.8,750.4 C428.8,749.9 430.8,749.4 432.8,748.9 C434.8,748.5 436.8,748.0 438.8,747.5 C440.8,747.1 442.8,746.6 444.8,746.2 C446.8,745.7 448.8,745.3 450.8,744.9 C452.8,744.4 454.8,744.0 456.8,743.6 C458.8,743.1 460.8,742.7 462.8,742.3 C464.8,741.9 466.7,741.5 468.7,741.1 C470.7,740.7 472.7,740.3 474.7,739.9 C476.7,739.5 478.7,739.1 480.7,738.8 C482.7,738.4 484.7,738.0 486.7,737.7 C488.7,737.3 490.7,737.0 492.7,736.6 C494.7,736.3 496.7,735.9 498.7,735.6 C500.7,735.3 502.7,735.0 504.7,734.6 C506.7,734.3 508.7,734.0 510.7,733.7 C512.7,733.4 514.7,733.1 516.6,732.8 C518.6,732.5 520.6,732.2 522.6,732.0 C524.6,731.7 526.6,731.4 528.6,731.2 C530.6,730.9 532.6,730.7 534.6,730.4 C536.6,730.2 538.6,729.9 540.6,729.7 C542.6,729.5 544.6,729.2 546.6,729.0 C548.6,728.8 550.6,728.6 552.6,728.4 C554.6,728.2 556.6,728.0 558.6,727.8 C560.6,727.6 562.6,727.4 564.5,727.2 C566.5,727.1 568.5,726.9 570.5,726.7 C572.5,726.6 574.5,726.4 576.5,726.3 C578.5,726.1 580.5,726.0 582.5,725.8 C584.5,725.7 587.5,725.5 588.5,725.5" stroke="#000" stroke-width="2.1" fill="none" stroke-linecap="butt"/>
<path d="M97.5,842.0 C98.5,841.9 101.5,841.5 103.5,841.3 C105.5,841.1 107.5,840.8 109.5,840.6 C111.4,840.4 113.4,840.1 115.4,839.9 C117.4,839.6 119.4,839.3 121.4,839.1 C123.4,838.8 125.4,838.5 127.4,838.2 C129.4,837.9 131.4,837.7 133.4,837.4 C135.4,837.1 137.4,836.7 139.3,836.4 C141.3,836.1 143.3,835.8 145.3,835.5 C147.3,835.1 149.3,834.8 151.3,834.5 C153.3,834.1 155.3,833.8 157.3,833.4 C159.3,833.1 161.3,832.7 163.3,832.3 C165.2,832.0 167.2,831.6 169.2,831.2 C171.2,830.8 173.2,830.4 175.2,830.0 C177.2,829.7 179.2,829.3 181.2,828.8 C183.2,828.4 185.2,828.0 187.2,827.6 C189.2,827.2 191.2,826.8 193.1,826.3 C195.1,825.9 197.1,825.5 199.1,825.0 C201.1,824.6 203.1,824.2 205.1,823.7 C207.1,823.3 209.1,822.8 211.1,822.4 C213.1,821.9 215.1,821.4 217.1,821.0 C219.0,820.5 221.0,820.0 223.0,819.6 C225.0,819.1 227.0,818.6 229.0,818.1 C231.0,817.7 233.0,817.2 235.0,816.7 C237.0,816.2 239.0,815.7 241.0,815.2 C243.0,814.7 245.0,814.2 246.9,813.7 C248.9,813.2 250.9,812.7 252.9,812.2 C254.9,811.7 256.9,811.2 258.9,810.7 C260.9,810.2 262.9,809.7 264.9,809.2 C266.9,808.7 268.9,808.2 270.9,807.7 C272.8,807.2 274.8,806.7 276.8,806.2 C278.8,805.7 280.8,805.1 282.8,804.6 C284.8,804.1 286.8,803.6 288.8,803.1 C290.8,802.6 292.8,802.1 294.8,801.6 C296.8,801.1 298.8,800.6 300.7,800.1 C302.7,799.6 304.7,799.1 306.7,798.6 C308.7,798.1 310.7,797.6 312.7,797.1 C314.7,796.6 316.7,796.1 318.7,795.6 C320.7,795.1 322.7,794.6 324.7,794.1 C326.6,793.6 328.6,793.1 330.6,792.6 C332.6,792.1 334.6,791.7 336.6,791.2 C338.6,790.7 340.6,790.2 342.6,789.8 C344.6,789.3 346.6,788.8 348.6,788.4 C350.6,787.9 352.6,787.4 354.5,787.0 C356.5,786.5 358.5,786.1 360.5,785.6 C362.5,785.2 364.5,784.7 366.5,784.3 C368.5,783.8 370.5,783.4 372.5,783.0 C374.5,782.5 376.5,782.1 378.5,781.7 C380.4,781.2 382.4,780.8 384.4,780.4 C386.4,780.0 388.4,779.6 390.4,779.2 C392.4,778.8 394.4,778.4 396.4,778.0 C398.4,777.6 400.4,777.2 402.4,776.8 C404.4,776.4 406.4,776.0 408.3,775.6 C410.3,775.3 412.3,774.9 414.3,774.5 C416.3,774.1 418.3,773.8 420.3,773.4 C422.3,773.1 424.3,772.7 426.3,772.3 C428.3,772.0 430.3,771.6 432.3,771.3 C434.2,771.0 436.2,770.6 438.2,770.3 C440.2,769.9 442.2,769.6 444.2,769.3 C446.2,769.0 448.2,768.6 450.2,768.3 C452.2,768.0 454.2,767.7 456.2,767.4 C458.2,767.0 460.2,766.7 462.1,766.4 C464.1,766.1 466.1,765.8 468.1,765.5 C470.1,765.2 472.1,764.9 474.1,764.6 C476.1,764.3 478.1,764.0 480.1,763.7 C482.1,763.4 484.1,763.1 486.1,762.8 C488.0,762.5 490.0,762.2 492.0,761.9 C494.0,761.6 496.0,761.3 498.0,761.0 C500.0,760.7 502.0,760.4 504.0,760.1 C506.0,759.8 508.0,759.5 510.0,759.2 C512.0,758.8 514.0,758.5 515.9,758.2 C517.9,757.9 519.9,757.6 521.9,757.3 C523.9,756.9 526.9,756.5 527.9,756.3" stroke="#000" stroke-width="2.1" fill="none" stroke-linecap="butt"/>
<text x="552.6" y="740.1" font-size="12.4" text-anchor="start" font-weight="bold">Ø 316</text>
<text x="511.6" y="770.8" font-size="12.4" text-anchor="start" font-weight="bold">Ø 300</text>
<path d="M97.5,926.6L591.9,926.6" stroke="#1a1a1a" stroke-width="0.9" fill="none"/>
<path d="M97.5,921.3L97.5,932.8" stroke="#1a1a1a" stroke-width="0.9" fill="none"/>
<path d="M171.5,921.3L171.5,926.6" stroke="#1a1a1a" stroke-width="0.9" fill="none"/>
<path d="M245.5,921.3L245.5,926.6" stroke="#1a1a1a" stroke-width="0.9" fill="none"/>
<path d="M319.4,921.3L319.4,926.6" stroke="#1a1a1a" stroke-width="0.9" fill="none"/>
<path d="M393.4,921.3L393.4,926.6" stroke="#1a1a1a" stroke-width="0.9" fill="none"/>
<path d="M467.4,921.3L467.4,926.6" stroke="#1a1a1a" stroke-width="0.9" fill="none"/>
<path d="M541.4,921.3L541.4,926.6" stroke="#1a1a1a" stroke-width="0.9" fill="none"/>
<text x="97.5" y="918.9" font-size="12.4" text-anchor="middle">0</text>
<text x="171.5" y="918.9" font-size="12.4" text-anchor="middle">10</text>
<text x="245.5" y="918.9" font-size="12.4" text-anchor="middle">20</text>
<text x="319.4" y="918.9" font-size="12.4" text-anchor="middle">30</text>
<text x="393.4" y="918.9" font-size="12.4" text-anchor="middle">40</text>
<text x="467.4" y="918.9" font-size="12.4" text-anchor="middle">50</text>
<text x="541.4" y="918.9" font-size="12.4" text-anchor="middle">60</text>
<path d="M159.2,926.6L159.2,932.8" stroke="#1a1a1a" stroke-width="0.9" fill="none"/>
<path d="M220.8,926.6L220.8,932.8" stroke="#1a1a1a" stroke-width="0.9" fill="none"/>
<path d="M282.5,926.6L282.5,932.8" stroke="#1a1a1a" stroke-width="0.9" fill="none"/>
<path d="M344.1,926.6L344.1,932.8" stroke="#1a1a1a" stroke-width="0.9" fill="none"/>
<path d="M405.8,926.6L405.8,932.8" stroke="#1a1a1a" stroke-width="0.9" fill="none"/>
<path d="M467.4,926.6L467.4,932.8" stroke="#1a1a1a" stroke-width="0.9" fill="none"/>
<path d="M529.0,926.6L529.0,932.8" stroke="#1a1a1a" stroke-width="0.9" fill="none"/>
<text x="97.5" y="946.3" font-size="12.4" text-anchor="middle">0</text>
<text x="159.2" y="946.3" font-size="12.4" text-anchor="middle">500</text>
<text x="220.8" y="946.3" font-size="12.4" text-anchor="middle">1000</text>
<text x="282.5" y="946.3" font-size="12.4" text-anchor="middle">1500</text>
<text x="344.1" y="946.3" font-size="12.4" text-anchor="middle">2000</text>
<text x="405.8" y="946.3" font-size="12.4" text-anchor="middle">2500</text>
<text x="467.4" y="946.3" font-size="12.4" text-anchor="middle">3000</text>
<text x="529.0" y="946.3" font-size="12.4" text-anchor="middle">3500</text>
<text x="569.6" y="919.3" font-size="12.4" text-anchor="start">Q l/s</text>
<text x="573.6" y="946.6" font-size="12.4" text-anchor="start">Q l/min</text>
</svg>
</body></html>
